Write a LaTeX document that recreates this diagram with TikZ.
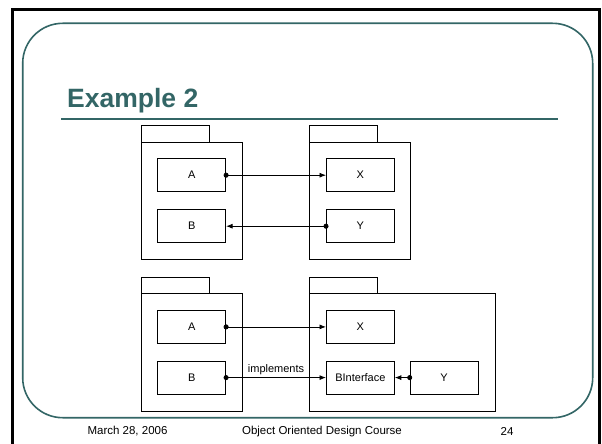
\documentclass[tikz,border=0pt]{standalone}
\usepackage{fontspec}
\setmainfont{Liberation Sans}
\usetikzlibrary{arrows.meta}
\definecolor{teal1}{RGB}{51,102,102}
\tikzset{
  cls/.style={draw=black,line width=0.8pt,minimum width=68pt,minimum height=33pt,inner sep=0pt,font=\fontsize{11}{13}\selectfont},
  pkgbody/.style={draw=black,line width=0.8pt,inner sep=0pt},
  pkgtab/.style={draw=black,line width=0.8pt,inner sep=0pt,minimum width=67.5pt,minimum height=16.7pt},
  dep/.style={line width=0.8pt,shorten <=-2.5pt,{Circle[length=5pt]}-{Latex[length=6.5pt,width=5pt]}},
  foot/.style={font=\fontsize{11.5}{13}\selectfont}
}
\begin{document}
\begin{tikzpicture}[x=1pt,y=-1pt]
\useasboundingbox (0,0) rectangle (602,444);
\fill[white] (0,0) rectangle (602,444);
% outer frame
\draw[line width=2.5pt] (12.7,450) -- (12.7,9.3) -- (599.3,9.3) -- (599.3,450);
% rounded slide frame
\draw[teal1,line width=1.6pt,rounded corners=40pt] (22.7,23.3) rectangle (592.7,417.7);
% title
\node[anchor=base west,inner sep=0pt,text=teal1,font=\fontsize{26.5}{30}\selectfont\bfseries] (title) at (67,107) {Example 2};
\draw[teal1,line width=1.8pt] (61,119) -- (558,119);
% upper packages
\node[pkgtab,anchor=north west] (t1) at (141,125) {};
\node[pkgbody,anchor=north west,minimum width=100.7pt,minimum height=117.6pt] (p1) at (141,141.7) {};
\node[pkgtab,anchor=north west] (t2) at (309.3,125) {};
\node[pkgbody,anchor=north west,minimum width=100.7pt,minimum height=117.6pt] (p2) at (309.3,141.7) {};
\node[cls,anchor=north west] (A1) at (157.3,158.3) {A};
\node[cls,anchor=north west] (B1) at (157.3,209.3) {B};
\node[cls,anchor=north west] (X1) at (326,158.3) {X};
\node[cls,anchor=north west] (Y1) at (326,209.3) {Y};
\draw[dep] (A1.east) -- (X1.west);
\draw[dep] (Y1.west) -- (B1.east);
% lower packages
\node[pkgtab,anchor=north west] (t3) at (141,276.7) {};
\node[pkgbody,anchor=north west,minimum width=100.7pt,minimum height=117.6pt] (p3) at (141,293.3) {};
\node[pkgtab,anchor=north west] (t4) at (309.3,276.7) {};
\node[pkgbody,anchor=north west,minimum width=185.4pt,minimum height=117.6pt] (p4) at (309.3,293.3) {};
\node[cls,anchor=north west] (A2) at (157.3,310) {A};
\node[cls,anchor=north west] (B2) at (157.3,360.7) {B};
\node[cls,anchor=north west] (X2) at (326,310) {X};
\node[cls,anchor=north west] (BI) at (326,360.7) {BInterface};
\node[cls,anchor=north west] (Y2) at (409.7,360.7) {Y};
\draw[dep] (A2.east) -- (X2.west);
\draw[dep] (B2.east) -- node[above=-1pt,font=\fontsize{11}{13}\selectfont] (impl) {implements} (BI.west);
\draw[dep] (Y2.west) -- (BI.east);
% footer
\node[foot] (date) at (127.5,431.5) {March 28, 2006};
\node[foot] (course) at (322,431.5) {Object Oriented Design Course};
\node[foot] (page) at (507,431.5) {24};
\end{tikzpicture}
\end{document}
